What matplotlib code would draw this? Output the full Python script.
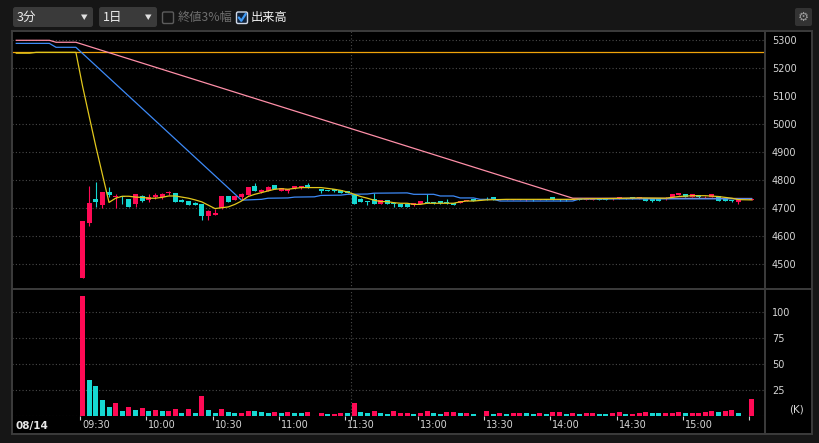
import matplotlib
matplotlib.use("Agg")
import matplotlib.pyplot as plt
import matplotlib.transforms as mtransforms
from matplotlib.patches import FancyBboxPatch, Rectangle, Polygon
import numpy as np

# slot = 3-minute step counted from 09:00 (the afternoon session follows the 11:30 slot)
candle_slots = [10, 11, 12, 13, 14, 15, 16, 17, 18, 19, 20, 21, 22, 23, 24, 25, 26, 27, 28, 29,
                30, 31, 32, 33, 34, 35, 36, 37, 38, 39, 40, 41, 42, 43, 44, 46, 47, 48, 49, 50,
                51, 52, 53, 54, 55, 56, 57, 58, 59, 60, 61, 62, 63, 64, 65, 66, 67, 68, 69, 71,
                72, 73, 74, 75, 76, 77, 78, 79, 80, 81, 82, 83, 84, 85, 86, 87, 88, 89, 90, 91,
                92, 93, 94, 95, 96, 97, 98, 99, 100, 101, 102, 103, 104, 105, 106, 107, 108, 109, 111]
opens = [4452, 4647, 4733, 4712, 4758, 4740, 4744, 4733, 4714, 4744, 4728, 4740, 4742, 4754, 4755, 4728, 4726, 4720, 4714, 4673,
         4677, 4700, 4744, 4730, 4740, 4748, 4780, 4760, 4763, 4783, 4763, 4762, 4771, 4774, 4783, 4769, 4765, 4768, 4765, 4762,
         4749, 4732, 4726, 4732, 4715, 4730, 4720, 4715, 4715, 4711, 4715, 4722, 4720, 4726, 4720, 4718, 4720, 4726, 4733, 4735,
         4740, 4731, 4730, 4730, 4730, 4728, 4731, 4730, 4732, 4740, 4733, 4731, 4730, 4733, 4731, 4731, 4734, 4735, 4732, 4736,
         4737, 4740, 4736, 4732, 4732, 4732, 4732, 4742, 4748, 4751, 4742, 4748, 4739, 4742, 4744, 4736, 4727, 4724, 4730]
highs = [4655, 4781, 4794, 4758, 4775, 4751, 4744, 4733, 4752, 4746, 4752, 4755, 4753, 4763, 4756, 4735, 4727, 4721, 4716, 4694,
         4699, 4745, 4745, 4745, 4753, 4777, 4792, 4768, 4778, 4784, 4772, 4770, 4781, 4781, 4789, 4770, 4766, 4769, 4766, 4763,
         4750, 4736, 4727, 4754, 4731, 4731, 4721, 4716, 4716, 4719, 4727, 4750, 4721, 4727, 4733, 4719, 4727, 4731, 4734, 4739,
         4741, 4734, 4734, 4734, 4734, 4732, 4732, 4733, 4733, 4741, 4734, 4732, 4734, 4734, 4735, 4735, 4735, 4736, 4737, 4741,
         4738, 4741, 4741, 4733, 4733, 4733, 4740, 4752, 4756, 4752, 4752, 4749, 4743, 4752, 4745, 4737, 4728, 4733, 4733]
lows = [4452, 4637, 4706, 4702, 4742, 4700, 4714, 4705, 4706, 4724, 4722, 4732, 4732, 4749, 4722, 4723, 4712, 4712, 4658, 4658,
        4675, 4699, 4722, 4728, 4728, 4746, 4762, 4756, 4762, 4768, 4762, 4756, 4770, 4770, 4774, 4756, 4762, 4760, 4753, 4755,
        4714, 4721, 4713, 4714, 4714, 4714, 4706, 4704, 4704, 4710, 4714, 4719, 4717, 4717, 4717, 4712, 4719, 4725, 4726, 4729,
        4729, 4730, 4729, 4729, 4729, 4727, 4727, 4729, 4729, 4729, 4727, 4727, 4729, 4729, 4730, 4730, 4730, 4730, 4731, 4735,
        4734, 4735, 4735, 4726, 4724, 4726, 4728, 4741, 4747, 4741, 4741, 4738, 4738, 4741, 4726, 4726, 4724, 4715, 4729]
closes = [4655, 4718, 4722, 4758, 4748, 4745, 4741, 4705, 4751, 4726, 4741, 4747, 4752, 4757, 4723, 4724, 4713, 4713, 4673, 4692,
          4685, 4744, 4723, 4744, 4752, 4776, 4763, 4764, 4777, 4769, 4771, 4769, 4780, 4780, 4775, 4763, 4763, 4761, 4754, 4756,
          4715, 4723, 4724, 4715, 4730, 4715, 4715, 4705, 4705, 4718, 4726, 4720, 4718, 4718, 4718, 4713, 4726, 4730, 4727, 4730,
          4730, 4733, 4733, 4733, 4733, 4731, 4728, 4732, 4730, 4730, 4728, 4728, 4733, 4730, 4734, 4734, 4731, 4731, 4736, 4740,
          4735, 4736, 4740, 4727, 4727, 4727, 4734, 4751, 4755, 4742, 4751, 4739, 4742, 4751, 4727, 4727, 4725, 4732, 4732]

vol_slots = candle_slots
volumes = [115.4, 34.6, 28.8, 15.4, 8.7, 12.5, 4.8, 8.0, 5.8, 7.7, 4.8, 5.8, 4.8, 4.8, 6.7, 2.9, 6.7, 2.9, 19.2, 5.8,
           2.9, 6.7, 3.8, 2.9, 2.9, 4.8, 4.8, 3.8, 2.9, 3.8, 2.9, 3.8, 2.9, 2.9, 3.8, 2.9, 1.9, 1.9, 2.9, 2.9,
           12.5, 3.8, 2.9, 4.8, 2.9, 1.9, 4.8, 2.9, 2.9, 1.9, 2.9, 4.8, 2.9, 1.9, 3.8, 3.8, 2.9, 2.9, 1.9, 4.8,
           1.9, 2.9, 1.9, 2.9, 2.9, 2.9, 1.9, 2.9, 1.9, 3.8, 3.8, 1.9, 2.9, 1.9, 2.9, 2.9, 1.9, 1.9, 2.9, 3.8,
           1.9, 1.9, 2.9, 3.8, 2.9, 2.9, 2.9, 2.9, 3.8, 2.9, 2.9, 2.9, 3.8, 4.8, 3.8, 4.8, 5.8, 2.9, 16.3]
vol_colors = list("rccccrcrcrcrcrrcrcrc"
                  "crccrrcccrcrccrrcrrc"
                  "rccrccrrrcrrccrrcrcr"
                  "crcrrccrcrrcrcrrccrr"
                  "crrrccrrrcrrrrcrrcr")

# moving averages (slot, value)
ma5_slots = [0, 2, 3, 9, 10, 11, 12, 13, 14, 15, 16, 17, 18, 19, 20, 21, 22, 23, 24, 25, 26, 27, 28, 29, 30,
             31, 32, 33, 34, 35, 36, 37, 38, 39, 40, 41, 42, 43, 46, 47, 48, 49, 50, 51, 52, 53, 54, 55, 56,
             57, 58, 59, 60, 61, 62, 66, 67, 68, 69, 71, 74, 84, 86, 90, 94, 98, 100, 102, 104, 106, 108, 109, 111]
ma5_values = [5254, 5254, 5257, 5257, 5137, 5029, 4922, 4821, 4721, 4736, 4743, 4743, 4740, 4739, 4736, 4736, 4739,
              4744, 4744, 4740, 4736, 4730, 4723, 4711, 4699, 4702, 4705, 4714, 4726, 4742, 4750, 4756, 4762, 4768,
              4770, 4768, 4771, 4774, 4774, 4771, 4768, 4764, 4758, 4750, 4742, 4736, 4729, 4724, 4724, 4720, 4718,
              4718, 4714, 4714, 4718, 4718, 4723, 4726, 4726, 4730, 4732, 4732, 4734, 4735, 4737, 4736, 4742, 4745,
              4745, 4742, 4736, 4731, 4730]
ma25_slots = [0, 5, 6, 9, 34, 37, 38, 41, 42, 45, 46, 49, 50, 53, 54, 59, 60, 63, 64, 66, 67, 69, 70, 72, 73,
              84, 85, 111]
ma25_values = [5289, 5289, 5275, 5275, 4729, 4732, 4736, 4737, 4740, 4741, 4746, 4747, 4750, 4751, 4754, 4755,
               4750, 4750, 4744, 4744, 4737, 4737, 4732, 4732, 4726, 4726, 4733, 4734]
ma75_slots = [0, 5, 6, 9, 84, 111]
ma75_values = [5300, 5300, 5293, 5293, 4736, 4735]
prev_close = 5257

price_ticks = [4500, 4600, 4700, 4800, 4900, 5000, 5100, 5200, 5300]
vol_ticks = [25, 50, 75, 100]
time_ticks = [10, 20, 30, 40, 50, 50.85, 61, 71, 81, 91, 101, 111]
time_label_pos = [10, 20, 30, 40, 50, 61, 71, 81, 91, 101]
time_labels = ["09:30", "10:00", "10:30", "11:00", "11:30", "13:00", "13:30", "14:00", "14:30", "15:00"]

RED = "#ff0a55"
CYAN = "#16d8d2"
GRID = "#4a4a4a"
TXT = "#d6d6d6"
JP = ["Noto Sans CJK JP", "DejaVu Sans"]

W, H = 820, 443
fig = plt.figure(figsize=(W / 100, H / 100), dpi=100)
fig.patch.set_facecolor("#161616")


def rect(l, t, r, b):
    return [l / W, 1 - b / H, (r - l) / W, (b - t) / H]


bg = fig.add_axes([0, 0, 1, 1])
bg.set_xlim(0, W)
bg.set_ylim(H, 0)
bg.axis("off")
bg.set_zorder(-5)
bg.add_patch(Rectangle((12, 31), 800, 403, fc="#000000", ec="none"))

xlim = ((12 - 13.75) / 6.625, (765 - 13.75) / 6.625)

ax1 = fig.add_axes(rect(12, 31, 765, 289))
ax2 = fig.add_axes(rect(12, 289, 765, 416))
for ax in (ax1, ax2):
    ax.set_facecolor("none")
    ax.set_xlim(*xlim)
    for s in ax.spines.values():
        s.set_visible(False)
    ax.yaxis.tick_right()
    ax.tick_params(axis="y", length=0, pad=5, labelsize=7, labelcolor=TXT)
    ax.axvline(50.85, color=GRID, lw=0.8, ls=(0, (1, 2)))

# price panel
ax1.set_ylim(4800 - (289 - 180.3) / 0.28, 4800 + (180.3 - 31) / 0.28)
ax1.set_yticks(price_ticks)
ax1.set_xticks([])
for v in price_ticks:
    ax1.axhline(v, color=GRID, lw=0.8, ls=(0, (1, 2)), zorder=0)

for k, o, h, l, c in zip(candle_slots, opens, highs, lows, closes):
    col = RED if c > o else CYAN
    ax1.vlines(k + 0.38, l, h, color=col, lw=0.8, zorder=2)
    ax1.bar(k, max(abs(c - o), 3), bottom=min(o, c), width=0.755, align="edge",
            color=col, lw=0, zorder=2)

ax1.axhline(prev_close, color="#f0a30a", lw=0.9, zorder=3)
ax1.plot(np.array(ma75_slots) + 0.38, ma75_values, color="#ff8fa8", lw=0.9, zorder=3)
ax1.plot(np.array(ma25_slots) + 0.38, ma25_values, color="#3d8af7", lw=0.9, zorder=3)
ax1.plot(np.array(ma5_slots) + 0.38, ma5_values, color="#e2c81c", lw=0.9, zorder=4)

# volume panel
ax2.set_ylim(-0.29, (416 - 289) / 1.04 - 0.29)
ax2.set_yticks(vol_ticks)
for v in vol_ticks + [0]:
    ax2.axhline(v, color=GRID, lw=0.8, ls=(0, (1, 2)), zorder=0)
ax2.bar(vol_slots, volumes, width=0.755, align="edge",
        color=[RED if c == "r" else CYAN for c in vol_colors], lw=0, zorder=2)
ax2.set_xticks(time_ticks)
ax2.set_xticklabels([])
ax2.tick_params(axis="x", length=3, width=0.8, color="#cfcfcf", direction="out")

trans = mtransforms.blended_transform_factory(ax2.transData, ax2.transAxes)
for p, lab in zip(time_label_pos, time_labels):
    ax2.text(p + 0.3, -9.5 / 127, lab, transform=trans, ha="left", va="center",
             fontsize=7, color=TXT, clip_on=False)

# frame, toolbar
ov = fig.add_axes([0, 0, 1, 1])
ov.set_xlim(0, W)
ov.set_ylim(H, 0)
ov.axis("off")
ov.set_zorder(10)
ov.add_patch(Rectangle((12, 31), 800, 403, fc="none", ec="#3c3c3c", lw=1.4))
ov.plot([765, 765], [31, 434], color="#3c3c3c", lw=1.4)
ov.plot([12, 812], [289, 289], color="#3c3c3c", lw=1.4)
ov.text(16, 425.5, "08/14", fontsize=7.5, fontweight="bold", color="#e6e6e6", va="center", ha="left")
ov.text(797, 410, "(K)", fontsize=7.5, color=TXT, va="center", ha="center")

for l, r, lab in [(13, 93, "3分"), (99, 157, "1日")]:
    ov.add_patch(FancyBboxPatch((l, 7), r - l, 20, boxstyle="round,pad=0,rounding_size=2.5",
                                fc="#3a3a3a", ec="none"))
    ov.text(l + 4, 17.5, lab, fontsize=9, color="#ececec", va="center", ha="left", family=JP)
    ov.add_patch(Polygon([[r - 12, 14.5], [r - 5.5, 14.5], [r - 8.75, 20]], closed=True,
                         fc="#e0e0e0", ec="none"))

ov.add_patch(FancyBboxPatch((162.5, 12), 11, 11.5, boxstyle="round,pad=0,rounding_size=1.5",
                            fc="none", ec="#5c5c5c", lw=1))
ov.text(177.5, 17.5, "終値3%幅", fontsize=8.8, color="#6e6e6e", va="center", ha="left", family=JP)
ov.add_patch(FancyBboxPatch((236.5, 12), 11, 11.5, boxstyle="round,pad=0,rounding_size=1.5",
                            fc="#10223a", ec="#d0d8e6", lw=1))
ov.plot([238.8, 241.3, 245.8], [17.5, 20.8, 13.8], color="#3f9af5", lw=1.6, solid_capstyle="round")
ov.text(251, 17.5, "出来高", fontsize=8.8, color="#f2f2f2", va="center", ha="left", family=JP)

ov.add_patch(FancyBboxPatch((795, 8), 17, 18, boxstyle="round,pad=0,rounding_size=2",
                            fc="#333333", ec="none"))
ov.text(803.5, 17, "\u2699", fontsize=9, color="#9a9a9a", va="center", ha="center")

fig.savefig("out.png", dpi=100, facecolor=fig.get_facecolor())
